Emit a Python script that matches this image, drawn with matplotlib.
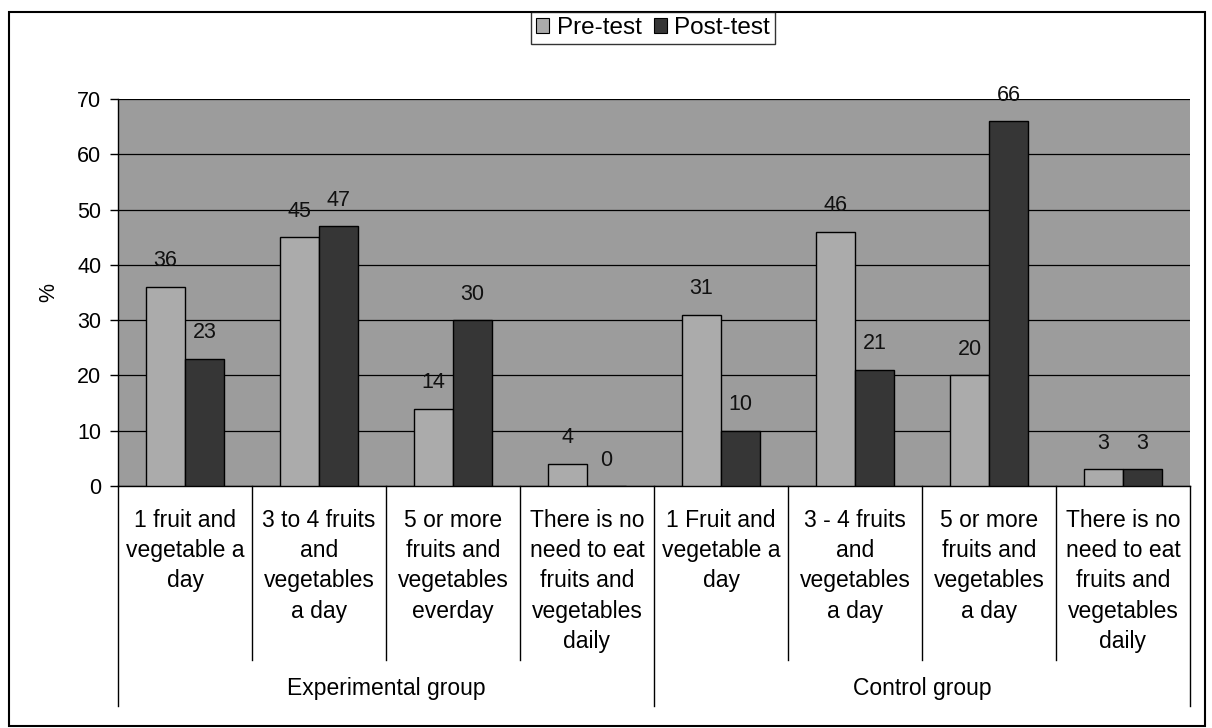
"""Fruit and vegetable intake, pre-test vs post-test, by group."""
import matplotlib.pyplot as plt
import numpy as np
from matplotlib.patches import Patch, Rectangle

plt.rcParams["font.family"] = ["Liberation Sans", "DejaVu Sans"]

groups = ["Experimental group", "Control group"]
categories = [
    "1 fruit and\nvegetable a\nday",
    "3 to 4 fruits\nand\nvegetables\na day",
    "5 or more\nfruits and\nvegetables\neverday",
    "There is no\nneed to eat\nfruits and\nvegetables\ndaily",
    "1 Fruit and\nvegetable a\nday",
    "3 - 4 fruits\nand\nvegetables\na day",
    "5 or more\nfruits and\nvegetables\na day",
    "There is no\nneed to eat\nfruits and\nvegetables\ndaily",
]
pre_test = [36, 45, 14, 4, 31, 46, 20, 3]
post_test = [23, 47, 30, 0, 10, 21, 66, 3]
series_names = ["Pre-test", "Post-test"]

BG = "#9c9c9c"
PRE_COLOR = "#ababab"
POST_COLOR = "#363636"
W, H = 1212, 728

fig = plt.figure(figsize=(W / 100, H / 100), dpi=100)
ax = fig.add_axes([118 / W, 1 - 486 / H, 1072 / W, 387 / H])
ax.set_facecolor(BG)

x = np.arange(len(categories))
bar_w = 0.29
bars_pre = ax.bar(x - bar_w / 2, pre_test, bar_w, color=PRE_COLOR,
                  edgecolor="black", linewidth=1, zorder=3)
bars_post = ax.bar(x + bar_w / 2, post_test, bar_w, color=POST_COLOR,
                   edgecolor="black", linewidth=1, zorder=3)

# value labels sit a fixed distance above each bar
for bars, vals in ((bars_pre, pre_test), (bars_post, post_test)):
    for b, v in zip(bars, vals):
        ax.annotate(str(v), (b.get_x() + b.get_width() / 2, v),
                    xytext=(0, 26), textcoords="offset pixels",
                    ha="center", va="center", fontsize=15.5, color="#111111",
                    zorder=4)

ax.set_xlim(-0.5, len(categories) - 0.5)
ax.set_ylim(0, 70)
ax.set_yticks(range(0, 71, 10))
ax.yaxis.grid(True, color="black", linewidth=0.9, zorder=1)
ax.set_axisbelow(True)
ax.tick_params(axis="y", length=6, width=1, pad=6, labelsize=15.5)
ax.set_xticks([])
ax.set_ylabel("%", fontsize=15.5)
ax.yaxis.set_label_coords(-0.055, 0.5)

for side in ("top", "right"):
    ax.spines[side].set_visible(False)
ax.spines["left"].set_linewidth(1)
ax.spines["bottom"].set_linewidth(1)

# category table under the axis
trans = ax.get_xaxis_transform()
inner_end = -(660 - 486) / 387
outer_end = -(706 - 486) / 387
for i, label in enumerate(categories):
    ax.text(i, -(509 - 486) / 387, label, transform=trans, ha="center",
            va="top", fontsize=16.5, linespacing=1.4)
n_per_group = len(categories) // len(groups)
for b in range(len(categories) + 1):
    edge = b - 0.5
    bottom = outer_end if b % n_per_group == 0 else inner_end
    ax.plot([edge, edge], [0, bottom], transform=trans, color="black",
            linewidth=1, clip_on=False)
for g, name in enumerate(groups):
    centre = g * n_per_group + (n_per_group - 1) / 2
    ax.text(centre, -(689 - 486) / 387, name, transform=trans, ha="center",
            va="center", fontsize=16.5)

handles = [Patch(facecolor=PRE_COLOR, edgecolor="black", linewidth=0.8),
           Patch(facecolor=POST_COLOR, edgecolor="black", linewidth=0.8)]
leg = fig.legend(handles, series_names, loc="center",
                 bbox_to_anchor=(653 / W, 1 - 28 / H), ncol=2, fontsize=17.5,
                 frameon=True, fancybox=False, edgecolor="black",
                 handlelength=0.55, handleheight=0.55, handletextpad=0.3,
                 columnspacing=0.5, borderpad=0.2, borderaxespad=0)
leg.get_frame().set_linewidth(1)

fig.patches.append(Rectangle((9 / W, 1 - 726 / H), 1196 / W, 714 / H,
                             transform=fig.transFigure, fill=False,
                             edgecolor="black", linewidth=1.5))

fig.savefig("out.png", dpi=100)
